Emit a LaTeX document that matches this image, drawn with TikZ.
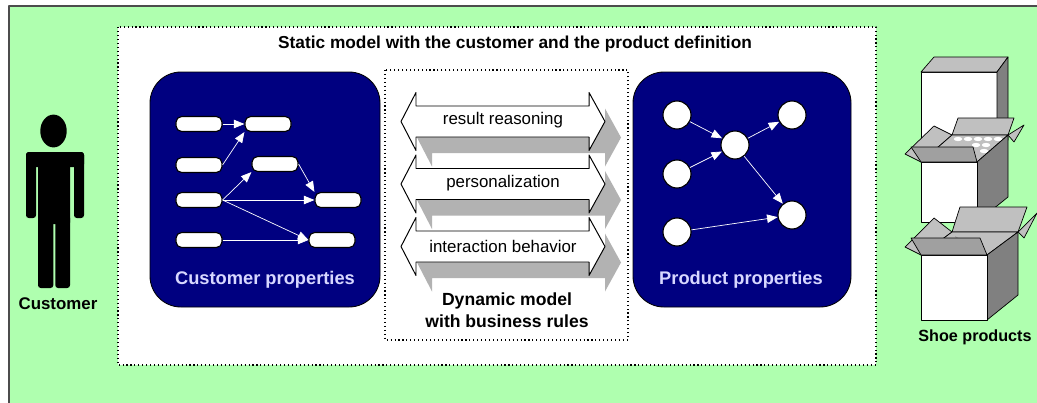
\documentclass[tikz,border=0pt]{standalone}
\usepackage{fontspec}
\setmainfont{Liberation Sans}
\usetikzlibrary{arrows.meta}
\definecolor{bggreen}{RGB}{175,255,175}
\definecolor{propblue}{RGB}{0,0,128}
\definecolor{proptext}{RGB}{215,215,255}
\definecolor{shadowgray}{RGB}{178,178,178}
\definecolor{lidgray}{RGB}{192,192,192}
\definecolor{flapgray}{RGB}{160,160,160}
\definecolor{sidegray}{RGB}{128,128,128}

\begin{document}
\begin{tikzpicture}[x=0.025cm, y=-0.025cm, line join=round,
        prop/.style = {draw, fill=white, line width=0.8pt, rounded corners=4pt, minimum width=1.15cm, minimum height=0.375cm, inner sep=0pt},
        item/.style = {draw, fill=white, circle, line width=0.8pt, minimum size=0.7cm, inner sep=0pt},
        link/.style = {draw=white, line width=0.5pt, -{Triangle[length=7.5pt,width=6pt]}},
        panel/.style = {draw, fill=propblue, line width=0.6pt, rounded corners=22pt},
        paneltext/.style = {text=proptext, font=\bfseries\fontsize{13}{15}\selectfont},
        flowtext/.style = {font=\fontsize{12}{14}\selectfont},
        boxline/.style = {draw, line width=0.5pt}]
        \useasboundingbox (0,0) rectangle (1037,402);
        \filldraw[fill=bggreen, draw=black!70, line width=1.2pt] (9,6) rectangle (1045,410);

        % static model frame
        \filldraw[fill=white, dotted, line width=0.8pt] (118,27) rectangle (876,365);
        \node[font=\bfseries\fontsize{12.3}{14}\selectfont](title) at (515,44){Static model with the customer and the product definition};

        % customer
        \fill (53.5,131) ellipse [x radius=0.33cm, y radius=0.41cm];
        \fill[rounded corners=2pt] (26,152) rectangle (84,167);
        \fill[rounded corners=2pt] (26,152) rectangle (36,218);
        \fill[rounded corners=2pt] (74,152) rectangle (84,218);
        \fill[rounded corners=1pt] (38,152) rectangle (70,224);
        \fill[rounded corners=2pt] (38,215) rectangle (53.3,288);
        \fill[rounded corners=2pt] (55.3,215) rectangle (70,288);
        \node[font=\bfseries\fontsize{12}{14}\selectfont](customer) at (58,304){Customer};

        % customer properties
        \path[panel] (150,72) rectangle (380,307);
        \node[prop](CP_a1) at (199,124){};
        \node[prop](CP_a2) at (199,165){};
        \node[prop](CP_a3) at (199,200){};
        \node[prop](CP_a4) at (199,240){};
        \node[prop](CP_b1) at (268,124){};
        \node[prop](CP_b2) at (275,164){};
        \node[prop](CP_c3) at (338,200){};
        \node[prop](CP_c4) at (332,240){};

        \path (CP_a1) edge[link] (CP_b1);
        \path (CP_a2.east) edge[link] (CP_b1.south west);
        \path (CP_a3.east) edge[link] (CP_b2.south west);
        \path (CP_a3.east) edge[link] (CP_c3.west);
        \path (CP_a3.east) edge[link] (CP_c4.west);
        \path (CP_b2.east) edge[link] (CP_c3.north west);
        \path (CP_a4) edge[link] (CP_c4);
        \node[paneltext](CP_label) at (265,280){Customer properties};

        % product properties
        \path[panel] (633,72) rectangle (851,307);
        \node[item](PP_a1) at (677,115){};
        \node[item](PP_a2) at (677,174){};
        \node[item](PP_a3) at (677,232){};
        \node[item](PP_hub) at (735,145){};
        \node[item](PP_c1) at (792,115){};
        \node[item](PP_c2) at (792,215){};

        \path (PP_a1) edge[link] (PP_hub);
        \path (PP_a2) edge[link] (PP_hub);
        \path (PP_hub) edge[link] (PP_c1);
        \path (PP_hub) edge[link] (PP_c2);
        \path (PP_a3) edge[link] (PP_c2);
        \node[paneltext](PP_label) at (741,280){Product properties};

        % dynamic model
        \filldraw[fill=white, dotted, line width=0.8pt] (385,70) rectangle (628,340);

        \fill[shadowgray, shift={(16,16)}] (401,121.5) -- ++(15,-29) -- ++(0,13.5) -- ++(173,0) -- ++(0,-13.5) -- ++(16,29) -- ++(-16,29) -- ++(0,-13.5) -- ++(-173,0) -- ++(0,13.5) -- cycle;
        \filldraw[fill=white, line width=0.7pt] (401,121.5) -- ++(15,-29) -- ++(0,13.5) -- ++(173,0) -- ++(0,-13.5) -- ++(16,29) -- ++(-16,29) -- ++(0,-13.5) -- ++(-173,0) -- ++(0,13.5) -- cycle;
        \fill[shadowgray, shift={(16,16)}] (401,184) -- ++(15,-29) -- ++(0,13.5) -- ++(173,0) -- ++(0,-13.5) -- ++(16,29) -- ++(-16,29) -- ++(0,-13.5) -- ++(-173,0) -- ++(0,13.5) -- cycle;
        \filldraw[fill=white, line width=0.7pt] (401,184) -- ++(15,-29) -- ++(0,13.5) -- ++(173,0) -- ++(0,-13.5) -- ++(16,29) -- ++(-16,29) -- ++(0,-13.5) -- ++(-173,0) -- ++(0,13.5) -- cycle;
        \fill[shadowgray, shift={(16,16)}] (401,246.5) -- ++(15,-29) -- ++(0,13.5) -- ++(173,0) -- ++(0,-13.5) -- ++(16,29) -- ++(-16,29) -- ++(0,-13.5) -- ++(-173,0) -- ++(0,13.5) -- cycle;
        \filldraw[fill=white, line width=0.7pt] (401,246.5) -- ++(15,-29) -- ++(0,13.5) -- ++(173,0) -- ++(0,-13.5) -- ++(16,29) -- ++(-16,29) -- ++(0,-13.5) -- ++(-173,0) -- ++(0,13.5) -- cycle;

        \node[flowtext](reason) at (503,120.5){result reasoning};
        \node[flowtext](personal) at (503,183.5){personalization};
        \node[flowtext](behave) at (503,246){interaction behavior};
        \node[font=\bfseries\fontsize{12.5}{15.5}\selectfont, align=center](dynamic) at (507,310){Dynamic model\\with business rules};

        % shoe boxes
        \filldraw[fill=white, boxline] (921,72) rectangle (997,150);
        \filldraw[fill=lidgray, boxline] (921,72) -- (997,72) -- (1008,57) -- (934,57) -- cycle;
        \filldraw[fill=sidegray, boxline] (997,72) -- (1008,57) -- (1008,140) -- (997,150) -- cycle;

        \filldraw[fill=lidgray, boxline] (921,162) -- (952,135) -- (934,126) -- (905,154) -- cycle;
        \filldraw[fill=lidgray, boxline] (952,135) -- (1008,135) -- (1014,118) -- (958,118) -- cycle;
        \filldraw[fill=lidgray, boxline] (1008,135) -- (1024,125) -- (1014,142) -- cycle;
        \filldraw[fill=lidgray, boxline] (921,162) -- (977,162) -- (1008,135) -- (952,135) -- cycle;
        \fill[white] (958,139) ellipse [x radius=3pt, y radius=1.5pt] (968,139) ellipse [x radius=3pt, y radius=1.5pt]
            (978,139) ellipse [x radius=3pt, y radius=1.5pt] (988,139) ellipse [x radius=3pt, y radius=1.5pt]
            (998,139) ellipse [x radius=3pt, y radius=1.5pt] (976,145) ellipse [x radius=3pt, y radius=1.5pt]
            (986,145) ellipse [x radius=3pt, y radius=1.5pt] (984,151) ellipse [x radius=3pt, y radius=1.5pt];
        \filldraw[fill=sidegray, boxline] (977,162) -- (1008,135) -- (1008,197) -- (977,222) -- cycle;
        \filldraw[fill=white, boxline] (921,162) rectangle (977,222);
        \filldraw[fill=flapgray, boxline] (921,162) -- (977,162) -- (973,147) -- (911,147) -- cycle;

        \filldraw[fill=lidgray, boxline] (921,255) -- (952,232) -- (934,218) -- (905,247) -- cycle;
        \filldraw[fill=lidgray, boxline] (952,232) -- (1018,232) -- (1027,207) -- (960,207) -- cycle;
        \filldraw[fill=lidgray, boxline] (1018,232) -- (1037,213) -- (1024,238) -- cycle;
        \filldraw[fill=lidgray, boxline] (921,255) -- (987,255) -- (1018,232) -- (952,232) -- cycle;
        \fill[flapgray] (955,236) -- (987,255) -- (962,255) -- cycle;
        \filldraw[fill=sidegray, boxline] (987,255) -- (1018,232) -- (1018,295) -- (987,320) -- cycle;
        \filldraw[fill=white, boxline] (921,255) rectangle (987,320);
        \filldraw[fill=flapgray, boxline] (921,255) -- (987,255) -- (980,238) -- (911,238) -- cycle;
        \node[font=\bfseries\fontsize{11.5}{14}\selectfont](shoes) at (975,337){Shoe products};
    \end{tikzpicture}
\end{document}
